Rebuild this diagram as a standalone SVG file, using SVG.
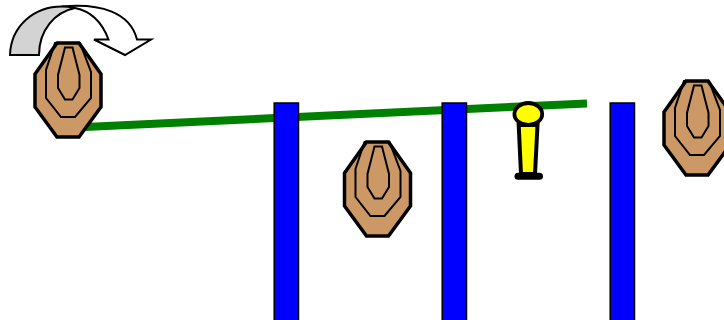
<svg xmlns="http://www.w3.org/2000/svg" xmlns:xlink="http://www.w3.org/1999/xlink" width="724" height="320" viewBox="0 0 724 320">
<style>
.bar{fill:#00f;stroke:#000;stroke-width:1.500}
.outer{fill:#cc9966;stroke:#000;stroke-width:3.500;stroke-linejoin:miter}
.ring{fill:none;stroke:#000;stroke-width:2}
.arrow{stroke:#000;stroke-width:2;stroke-linejoin:miter}
</style>
<defs>
<g id="target">
<polygon class="outer" points="57,43 79,43 101,74 101,107 79,137 57,137 35,107 35,74"/>
<polygon class="ring" points="55,43 80,43 91,72 91,98 75,117 61,117 46,98 46,70"/>
<polygon class="ring" points="65,47.500 72.500,47.500 79.500,75 79.500,88 72.500,99.500 65,99.500 58,88 58,75"/>
</g>
</defs>
<g id="connectors">
<line x1="85" y1="127" x2="587" y2="103.400" stroke="#008000" stroke-width="8"/>
</g>
<g id="arrow">
<path class="arrow" fill="#fff" d="M62,6.500C100,3 130,12 137,39.500L151,39.500L125,55L94,39.500L108.500,39.500C102,22 90,11 75,8Z"/>
<path class="arrow" fill="#d3d3d3" d="M10,55C11,25 35,6.500 62,6.500C66,6.500 70,7 75,8C55,12 39,30 39,55Z"/>
</g>
<g id="bar1"><rect class="bar" x="274.200" y="103" width="24.300" height="218"/></g>
<g id="bar2"><rect class="bar" x="442.200" y="103" width="24.300" height="218"/></g>
<g id="bar3"><rect class="bar" x="610.200" y="103" width="24.300" height="218"/></g>
<g id="target1"><use xlink:href="#target" href="#target"/></g>
<g id="target2"><use xlink:href="#target" href="#target" x="309.500" y="99"/></g>
<g id="target3"><use xlink:href="#target" href="#target" x="629" y="38"/></g>
<g id="pin">
<ellipse cx="528.300" cy="114" rx="13.900" ry="11" fill="#ff0" stroke="#000" stroke-width="3.800"/>
<polygon points="518.700,125 537.500,125 535,174 521,174" fill="#ff0" stroke="#000" stroke-width="4"/>
<line x1="518" y1="176.300" x2="539.500" y2="176.300" stroke="#000" stroke-width="7" stroke-linecap="round"/>
</g>
</svg>
